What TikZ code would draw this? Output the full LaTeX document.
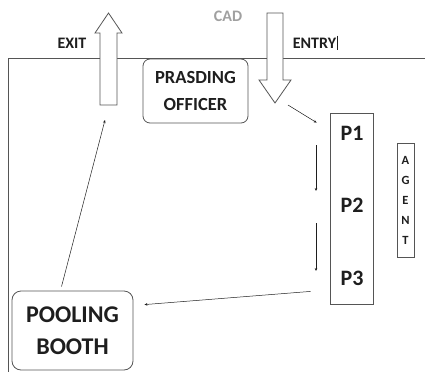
\documentclass[tikz,border=0pt]{standalone}
\usepackage{fontspec}
\setmainfont{Carlito}
\usetikzlibrary{arrows.meta}
\definecolor{ink}{HTML}{1E1E1E}
\definecolor{wire}{HTML}{555555}
\definecolor{cadgray}{HTML}{A0A0A0}
\tikzset{
  lbl/.style={text=ink, font=\bfseries\fontsize{16}{18}\selectfont, inner sep=1pt},
  room/.style={draw=wire, line width=0.8pt, rounded corners=7pt, text=ink, align=center},
  pnum/.style={text=ink, font=\bfseries\fontsize{22}{24}\selectfont},
  flow/.style={draw=ink, line width=0.5pt, -{Stealth[length=3pt,width=2.6pt]}},
  bigarrow/.style={draw=wire, line width=0.8pt, fill=white}
}
\begin{document}
\begin{tikzpicture}[x=1pt,y=-1pt]
\useasboundingbox (0,0) rectangle (425,372);
\draw [wire, line width=0.8pt] (425,58) -- (8,58) -- (8,372);
\node [lbl] (exit) at (72,43) {EXIT};
\node [lbl] (entry) at (314.5,43) {ENTRY};
\draw [ink, line width=0.6pt] ([shift={(0.3,-1)}]entry.north east) -- ([shift={(0.3,1)}]entry.south east);
\node [lbl, text=cadgray] (cad) at (228,16) {CAD};
\draw [bigarrow] (100,105) -- (100,33) -- (95,33) -- (108.5,13) -- (122,33) -- (117,33) -- (117,105) -- cycle;
\coordinate (exittail) at (108.5,105);
\draw [bigarrow] (267,13) -- (267,80) -- (259,80) -- (275,103) -- (291,80) -- (283,80) -- (283,13) -- cycle;
\coordinate (entrytip) at (275,103);
\node [room, minimum width=105pt, minimum height=64pt, font=\bfseries\fontsize{18.5}{27}\selectfont] (officer) at (195.5,91) {PRASDING\\OFFICER};
\node [room, minimum width=121pt, minimum height=79pt, rounded corners=9pt, font=\bfseries\fontsize{24}{32}\selectfont] (booth) at (72.5,330.5) {POOLING\\BOOTH};
\node [draw=wire, line width=0.8pt, minimum width=43pt, minimum height=191pt] (pbox) at (351.5,208.5) {};
\node [pnum] (p1) at (352,133) {P1};
\node [pnum] (p2) at (352,205) {P2};
\node [pnum] (p3) at (352,278) {P3};
\node [draw=wire, line width=0.8pt, minimum width=17pt, minimum height=114pt, inner sep=0pt, align=center, text=ink, font=\bfseries\fontsize{12.5}{20}\selectfont] (agent) at (405.5,200) {A\\G\\E\\N\\T};
\draw [flow] ([shift={(13,2)}]entrytip) -- ([shift={(-13,10)}]pbox.north west);
\draw [flow] ([shift={(-36,12)}]p1.center) -- ([shift={(-36,-14)}]p2.center);
\draw [flow] ([shift={(-36,18)}]p2.center) -- ([shift={(-36,-7)}]p3.center);
\draw [flow] ([shift={(-19,-13)}]pbox.south west) -- ([shift={(11,14)}]booth.north east);
\draw [flow] ([shift={(-11,-4)}]booth.north) -- ([shift={(-3.5,15)}]exittail);
\end{tikzpicture}
\end{document}
